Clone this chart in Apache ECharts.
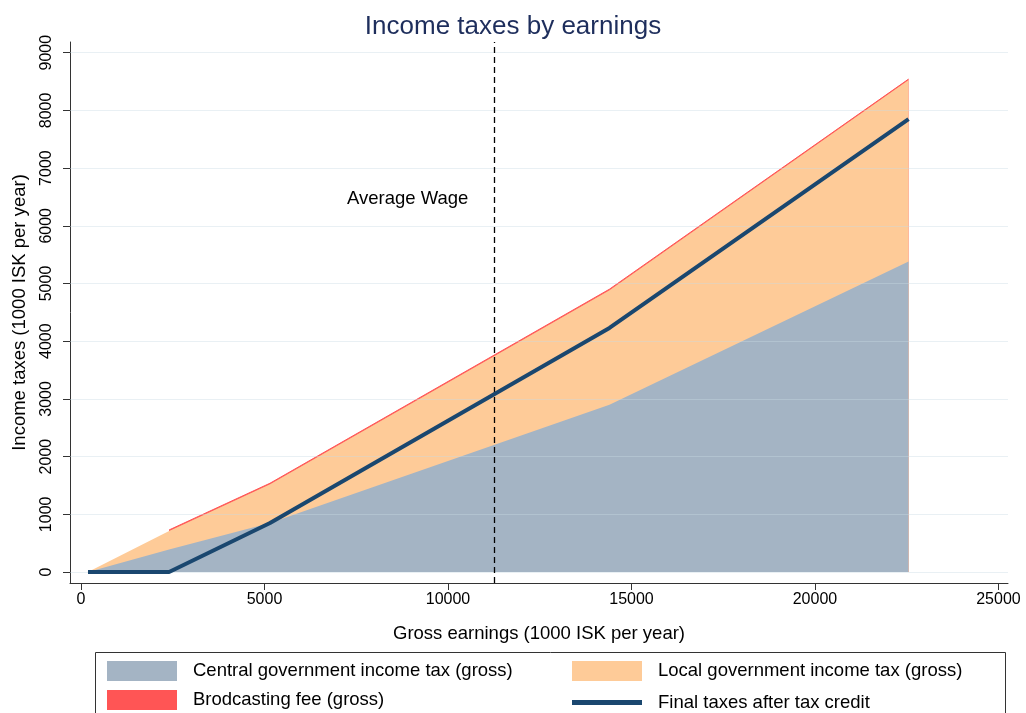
<!DOCTYPE html>
<html><head><meta charset="utf-8">
<script src="https://cdn.jsdelivr.net/npm/echarts@6/dist/echarts.min.js"></script>
<style>html,body{margin:0;padding:0;background:#fff}#c{width:1026px;height:713px}</style>
</head><body><div id="c"></div>
<script>
// Gross earnings (1000 ISK per year)
const earnings = [190, 2400, 5150, 14400, 22550];
const centralTax = [0, 390, 850, 2900, 5380];
const localTax = [0, 322, 672, 1985, 3145];
const broadcastFee = [null, 17, 17, 17, 17];
const finalTax = [0, 0, 850, 4230, 7850];
const xTicks = [0, 5000, 10000, 15000, 20000, 25000];
const yTicks = [0, 1000, 2000, 3000, 4000, 5000, 6000, 7000, 8000, 9000];
const averageWage = 11250;
const avgLabelPos = [8900, 6460];

const names = {
  central: 'Central government income tax (gross)',
  local: 'Local government income tax (gross)',
  fee: 'Brodcasting fee (gross)',
  fin: 'Final taxes after tax credit'
};
const FONT = '"Liberation Sans", Arial, sans-serif';

const centralData = earnings.map((x, i) => [x, centralTax[i]]);
const localCum = earnings.map((x, i) => [x, centralTax[i] + localTax[i]]);
const feeCum = earnings.map((x, i) => broadcastFee[i] == null ? null : [x, centralTax[i] + localTax[i] + broadcastFee[i]]).filter(d => d);
const finalData = earnings.map((x, i) => [x, finalTax[i]]);

const chart = echarts.init(document.getElementById('c'), null, {renderer: 'canvas'});
const legendText = {fontFamily: FONT, fontSize: 18.5, color: '#000', padding: [0, 0, 0, 11]};
function leg(name, left, top, h) {
  return {orient: 'horizontal', left: left, top: top, itemWidth: 70, itemHeight: h, icon: 'rect', padding: 0,
    data: [name], textStyle: legendText, selectedMode: false};
}
chart.setOption({
  animation: false,
  backgroundColor: '#fff',
  title: {text: 'Income taxes by earnings', left: 'center', top: 9,
    textStyle: {fontFamily: FONT, fontSize: 26, fontWeight: 'normal', color: '#1e2e5c'}},
  grid: {left: 70, right: 18, top: 42, bottom: 130, containLabel: false, outerBoundsMode: 'none'},
  xAxis: {type: 'value', min: -300, max: 25260,
    name: 'Gross earnings (1000 ISK per year)', nameLocation: 'middle', nameGap: 41,
    nameTextStyle: {fontFamily: FONT, fontSize: 18.5, color: '#000'},
    axisLine: {show: true, onZero: false, lineStyle: {color: '#333', width: 1}},
    axisTick: {show: true, length: 7, customValues: xTicks, lineStyle: {color: '#333'}},
    axisLabel: {customValues: xTicks, formatter: v => String(v), fontFamily: FONT, fontSize: 16, color: '#000', margin: 9},
    splitLine: {show: false}},
  yAxis: {type: 'value', min: -190, max: 9185,
    name: 'Income taxes (1000 ISK per year)', nameLocation: 'middle', nameGap: 41, nameRotate: 90,
    nameTextStyle: {fontFamily: FONT, fontSize: 18.5, color: '#000'},
    axisLine: {show: true, onZero: false, lineStyle: {color: '#333', width: 1}},
    axisTick: {show: true, length: 7, customValues: yTicks, lineStyle: {color: '#333'}},
    axisLabel: {customValues: yTicks, formatter: v => String(v), rotate: 90, fontFamily: FONT, fontSize: 16, color: '#000', margin: 15},
    splitLine: {show: false}},
  legend: [
    leg(names.central, 107, 661, 20),
    leg(names.fee, 107, 690, 20),
    leg(names.local, 572, 661, 20),
    leg(names.fin, 572, 693, 5)
  ],
  graphic: [{type: 'rect', shape: {x: 95.5, y: 652.5, width: 910, height: 80},
    style: {fill: 'none', stroke: '#333', lineWidth: 1}, silent: true, z: 100}],
  series: [
    {name: names.fee, type: 'line', data: feeCum, showSymbol: false, color: '#ff5555',
      lineStyle: {width: 1, color: '#ff5555'}, areaStyle: {color: '#ff5555', opacity: 1}, z: 1},
    {name: names.local, type: 'line', data: localCum, showSymbol: false, color: '#fecb98',
      lineStyle: {width: 0}, areaStyle: {color: '#fecb98', opacity: 1}, z: 2},
    {name: names.central, type: 'line', data: centralData, showSymbol: false, color: '#a4b4c4',
      lineStyle: {width: 0}, areaStyle: {color: '#a4b4c4', opacity: 1}, z: 3},
    {name: 'grid', type: 'line', data: [], z: 4, silent: true,
      markLine: {silent: true, symbol: 'none', label: {show: false},
        lineStyle: {color: 'rgba(200,218,228,0.4)', width: 1, type: 'solid'},
        data: yTicks.map(v => ({yAxis: v}))}},
    {name: 'avg', type: 'line', data: [], z: 5, silent: true,
      markLine: {silent: true, symbol: 'none', label: {show: false},
        lineStyle: {color: '#000', width: 1.3, type: [6, 4]},
        data: [{xAxis: averageWage}]}},
    {name: 'avglabel', type: 'scatter', data: [avgLabelPos], symbolSize: 0, z: 6, silent: true,
      label: {show: true, position: 'inside', formatter: 'Average Wage', fontFamily: FONT, fontSize: 18.5,
        color: '#000', textBorderWidth: 0, opacity: 1}},
    {name: names.fin, type: 'line', data: finalData, showSymbol: false, color: '#1a476f',
      lineStyle: {width: 4, color: '#1a476f'}, z: 7}
  ]
});
</script></body></html>
